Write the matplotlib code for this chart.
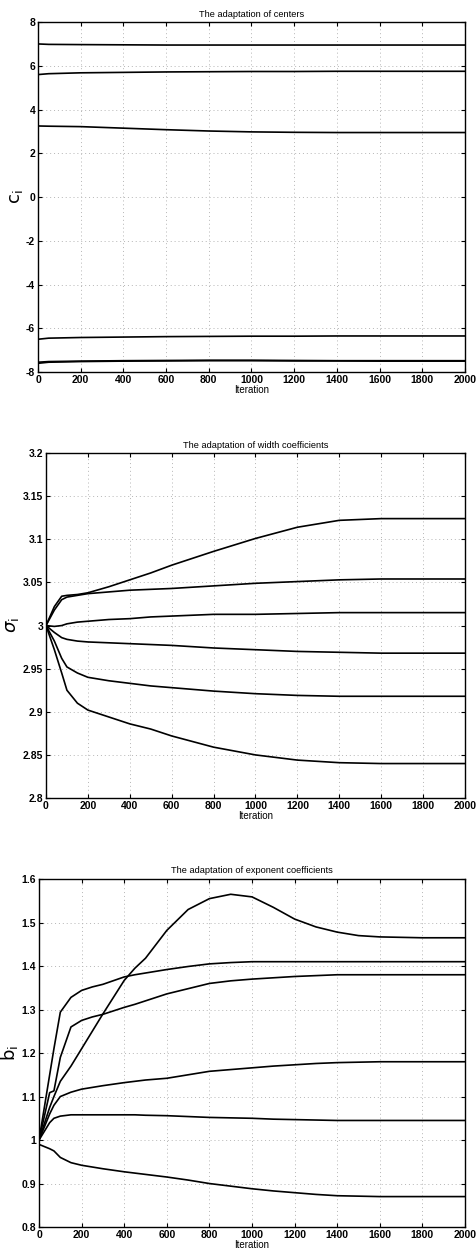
import matplotlib.pyplot as plt

plt.rcParams['font.family'] = ['Liberation Sans', 'DejaVu Sans']
plt.rcParams['mathtext.fontset'] = 'dejavusans'

# ---- panel 1: centers ----
c_iter = [0, 50, 200, 400, 600, 800, 1000, 1200, 1400, 1600, 2000]
c_1 = [7.00, 6.98, 6.97, 6.96, 6.95, 6.95, 6.95, 6.95, 6.95, 6.95, 6.95]
c_2 = [5.60, 5.64, 5.68, 5.70, 5.72, 5.73, 5.74, 5.74, 5.75, 5.75, 5.75]
c_3 = [3.25, 3.24, 3.22, 3.15, 3.08, 3.02, 2.98, 2.96, 2.95, 2.95, 2.95]
c_4 = [-6.50, -6.45, -6.42, -6.40, -6.38, -6.37, -6.36, -6.36, -6.35, -6.35, -6.35]
c_5 = [-7.60, -7.55, -7.52, -7.50, -7.49, -7.48, -7.48, -7.49, -7.49, -7.50, -7.50]
c_6 = [-7.55, -7.52, -7.50, -7.48, -7.47, -7.46, -7.46, -7.47, -7.48, -7.48, -7.48]
centers = [c_1, c_2, c_3, c_4, c_5, c_6]

# ---- panel 2: width coefficients ----
s_iter = [0, 40, 75, 100, 150, 200, 300, 400, 500, 600, 800, 1000, 1200, 1400, 1600, 2000]
s_1 = [3.000, 3.022, 3.034, 3.035, 3.036, 3.038, 3.045, 3.053, 3.061, 3.070, 3.086, 3.101, 3.114, 3.122, 3.124, 3.124]
s_2 = [3.000, 3.018, 3.030, 3.033, 3.035, 3.037, 3.039, 3.041, 3.042, 3.043, 3.046, 3.049, 3.051, 3.053, 3.054, 3.054]
s_3 = [3.000, 2.999, 3.000, 3.002, 3.004, 3.005, 3.007, 3.008, 3.010, 3.011, 3.013, 3.013, 3.014, 3.015, 3.015, 3.015]
s_4 = [3.000, 2.992, 2.986, 2.984, 2.982, 2.981, 2.980, 2.979, 2.978, 2.977, 2.974, 2.972, 2.970, 2.969, 2.968, 2.968]
s_5 = [3.000, 2.982, 2.962, 2.952, 2.945, 2.940, 2.936, 2.933, 2.930, 2.928, 2.924, 2.921, 2.919, 2.918, 2.918, 2.918]
s_6 = [3.000, 2.972, 2.945, 2.925, 2.910, 2.902, 2.894, 2.886, 2.880, 2.872, 2.859, 2.850, 2.844, 2.841, 2.840, 2.840]
widths = [s_1, s_2, s_3, s_4, s_5, s_6]

# ---- panel 3: exponent coefficients ----
b_iter = [0, 50, 70, 100, 150, 200, 250, 300, 400, 450, 500, 600, 700, 800, 900,
          1000, 1100, 1200, 1300, 1400, 1500, 1600, 1800, 2000]
b_1 = [1.00, 1.075, 1.10, 1.135, 1.17, 1.21, 1.25, 1.29, 1.367, 1.395, 1.418, 1.482, 1.53, 1.555, 1.565,
       1.559, 1.535, 1.508, 1.49, 1.478, 1.470, 1.467, 1.465, 1.465]
b_2 = [1.00, 1.15, 1.21, 1.294, 1.328, 1.344, 1.352, 1.358, 1.375, 1.380, 1.384, 1.392, 1.399, 1.405, 1.408,
       1.41, 1.41, 1.41, 1.41, 1.41, 1.41, 1.41, 1.41, 1.41]
b_3 = [1.00, 1.109, 1.113, 1.19, 1.26, 1.275, 1.283, 1.289, 1.305, 1.312, 1.320, 1.336, 1.348, 1.36, 1.366,
       1.37, 1.373, 1.376, 1.378, 1.38, 1.38, 1.38, 1.38, 1.38]
b_4 = [1.00, 1.06, 1.08, 1.10, 1.11, 1.117, 1.121, 1.125, 1.132, 1.135, 1.138, 1.142, 1.150, 1.158, 1.162,
       1.166, 1.170, 1.173, 1.176, 1.178, 1.179, 1.18, 1.18, 1.18]
b_5 = [1.00, 1.04, 1.05, 1.055, 1.058, 1.058, 1.058, 1.058, 1.058, 1.058, 1.057, 1.056, 1.054, 1.052, 1.051,
       1.050, 1.048, 1.047, 1.046, 1.045, 1.045, 1.045, 1.045, 1.045]
b_6 = [0.99, 0.98, 0.975, 0.96, 0.948, 0.942, 0.938, 0.934, 0.927, 0.924, 0.921, 0.915, 0.908, 0.900, 0.894,
       0.888, 0.883, 0.879, 0.875, 0.872, 0.871, 0.870, 0.870, 0.870]
exponents = [b_1, b_2, b_3, b_4, b_5, b_6]

panels = [
    ("The adaptation of centers", r"$\mathrm{c}_\mathrm{i}$", c_iter, centers, (-8, 8), range(-8, 9, 2),
     [0.0797, 0.7033, 0.895, 0.2791]),
    ("The adaptation of width coefficients", r"$\sigma_\mathrm{i}$", s_iter, widths, (2.8, 3.2),
     [2.8, 2.85, 2.9, 2.95, 3.0, 3.05, 3.1, 3.15, 3.2], [0.0964, 0.3636, 0.8784, 0.2751]),
    ("The adaptation of exponent coefficients", r"$\mathrm{b}_\mathrm{i}$", b_iter, exponents, (0.8, 1.6),
     [0.8, 0.9, 1.0, 1.1, 1.2, 1.3, 1.4, 1.5, 1.6], [0.0818, 0.0215, 0.8931, 0.2775]),
]

fig = plt.figure(figsize=(4.77, 12.54), dpi=100)

for title, ylab, xs, series, ylim, yticks, rect in panels:
    ax = fig.add_axes(rect)
    for ys in series:
        ax.plot(xs, ys, color='black', linewidth=1.2)
    ax.set_xlim(0, 2000)
    ax.set_ylim(*ylim)
    ax.set_xticks(range(0, 2001, 200))
    ax.set_yticks(list(yticks))
    ax.set_yticklabels(['%g' % v for v in yticks])
    ax.tick_params(direction='in', top=True, right=True, labelsize=7.5, length=3, pad=2)
    for lab in ax.get_xticklabels() + ax.get_yticklabels():
        lab.set_fontweight('bold')
    ax.grid(True, linestyle=(0, (1, 3)), color='#b5b5b5', linewidth=0.7)
    ax.set_title(title, fontsize=6.7, pad=4)
    ax.set_xlabel("Iteration", fontsize=7, labelpad=0)
    ax.set_ylabel(ylab, fontsize=13, labelpad=1)
    for sp in ax.spines.values():
        sp.set_linewidth(1.0)

fig.savefig("out.png", dpi=100)
